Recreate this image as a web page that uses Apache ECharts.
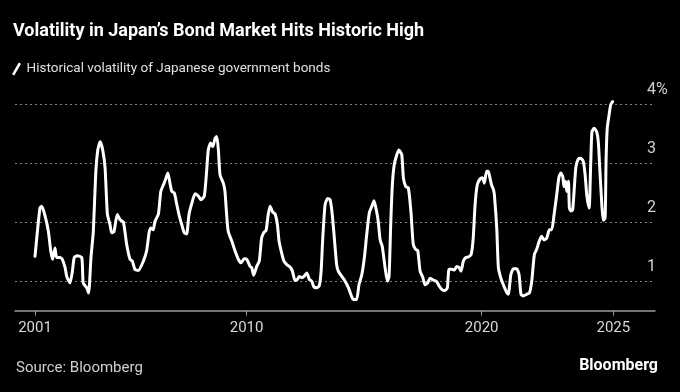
<!DOCTYPE html>
<html>
<head>
<meta charset="utf-8">
<script src="https://cdn.jsdelivr.net/npm/echarts@6/dist/echarts.min.js"></script>
<style>
html,body{margin:0;padding:0;background:#000;}
#c{width:680px;height:392px;}
</style>
</head>
<body>
<div id="c"></div>
<script>
const title = 'Volatility in Japan\u2019s Bond Market Hits Historic High';
const seriesName = 'Historical volatility of Japanese government bonds';
const source = 'Source: Bloomberg';
const xTickValues = [2001, 2010, 2020, 2025.6];
const xTickLabels = ['2001', '2010', '2020', '2025'];
const yTickValues = [1, 2, 3, 4];
const yTickLabels = ['1', '2', '3', '4%'];
const years = [
2001.00,2001.21,2001.29,2001.43,2001.57,2001.67,2001.75,2001.85,2001.92,2002.06,
2002.16,2002.28,2002.35,2002.49,2002.59,2002.67,2002.80,2002.99,2003.05,2003.20,
2003.28,2003.38,2003.48,2003.58,2003.67,2003.77,2003.88,2003.98,2004.08,2004.19,
2004.26,2004.36,2004.50,2004.62,2004.76,2004.90,2005.04,2005.14,2005.25,2005.39,
2005.61,2005.75,2005.86,2005.93,2006.03,2006.10,2006.25,2006.35,2006.46,2006.56,
2006.65,2006.74,2006.82,2006.93,2007.03,2007.14,2007.24,2007.35,2007.45,2007.55,
2007.67,2007.81,2007.95,2008.06,2008.20,2008.30,2008.37,2008.47,2008.56,2008.66,
2008.73,2008.80,2008.87,2009.01,2009.08,2009.15,2009.22,2009.37,2009.51,2009.65,
2009.76,2009.90,2010.01,2010.15,2010.22,2010.30,2010.43,2010.54,2010.64,2010.74,
2010.83,2010.92,2011.00,2011.11,2011.21,2011.31,2011.38,2011.49,2011.59,2011.71,
2011.85,2011.95,2012.06,2012.16,2012.24,2012.35,2012.44,2012.56,2012.67,2012.77,
2012.87,2012.98,2013.09,2013.17,2013.24,2013.34,2013.45,2013.55,2013.63,2013.72,
2013.83,2013.90,2014.05,2014.19,2014.33,2014.43,2014.54,2014.68,2014.78,2014.90,
2015.01,2015.11,2015.22,2015.33,2015.42,2015.53,2015.60,2015.68,2015.77,2015.89,
2015.99,2016.06,2016.13,2016.20,2016.28,2016.39,2016.48,2016.60,2016.67,2016.77,
2016.88,2016.99,2017.09,2017.19,2017.28,2017.38,2017.49,2017.59,2017.70,2017.80,
2017.94,2018.09,2018.19,2018.30,2018.44,2018.54,2018.61,2018.73,2018.84,2018.94,
2019.04,2019.12,2019.22,2019.32,2019.43,2019.55,2019.64,2019.72,2019.81,2019.93,
2020.03,2020.11,2020.21,2020.28,2020.35,2020.42,2020.50,2020.54,2020.64,2020.71,
2020.81,2020.92,2021.04,2021.13,2021.24,2021.35,2021.49,2021.59,2021.67,2021.77,
2021.92,2022.03,2022.13,2022.24,2022.34,2022.45,2022.55,2022.65,2022.77,2022.88,
2022.98,2023.08,2023.19,2023.29,2023.37,2023.45,2023.50,2023.57,2023.62,2023.69,
2023.73,2023.80,2023.87,2023.94,2024.01,2024.11,2024.21,2024.32,2024.40,2024.47,
2024.57,2024.64,2024.69,2024.78,2024.89,2024.96,2025.03,2025.11,2025.17,2025.25,
2025.29,2025.34,2025.42,2025.49,2025.57
];
const volatility = [
1.42,2.24,2.27,2.10,1.84,1.51,1.37,1.56,1.40,1.40,
1.37,1.23,1.08,0.97,1.17,1.40,1.43,1.40,0.97,0.89,
0.80,1.40,1.84,2.80,3.22,3.36,3.22,2.92,2.13,1.96,
1.82,1.84,2.13,2.04,2.00,1.62,1.37,1.34,1.20,1.18,
1.34,1.52,1.84,1.90,1.87,2.01,2.14,2.52,2.63,2.73,
2.83,2.66,2.52,2.49,2.30,2.10,1.96,1.82,1.80,2.13,
2.32,2.48,2.44,2.38,2.44,2.86,3.22,3.34,3.28,3.42,
3.45,3.22,2.80,2.66,2.52,2.13,1.84,1.68,1.51,1.37,
1.31,1.38,1.37,1.25,1.23,1.10,1.25,1.34,1.73,1.83,
1.86,2.13,2.27,2.17,2.14,1.96,1.68,1.48,1.34,1.28,
1.24,1.17,1.01,1.03,1.08,1.06,1.08,1.14,1.03,1.00,
0.90,0.89,0.92,1.17,1.73,2.30,2.40,2.38,2.18,1.79,
1.28,1.17,1.08,1.00,0.89,0.78,0.69,0.69,0.94,1.11,
1.40,1.79,2.16,2.27,2.36,2.18,2.01,1.70,1.59,1.23,
1.00,1.08,1.96,2.63,2.97,3.14,3.22,3.14,2.75,2.60,
2.58,2.18,1.62,1.54,1.52,1.17,1.07,0.94,0.97,1.05,
1.02,0.99,0.92,0.86,0.84,0.89,1.20,1.20,1.19,1.25,
1.23,1.17,1.34,1.40,1.41,1.45,1.73,2.30,2.63,2.73,
2.75,2.66,2.86,2.86,2.75,2.63,2.55,2.46,1.90,1.23,
1.06,0.94,0.83,0.78,1.11,1.21,1.21,1.11,0.78,0.75,
0.78,0.80,1.00,1.45,1.54,1.68,1.76,1.70,1.73,1.87,
1.87,2.13,2.46,2.77,2.83,2.77,2.60,2.69,2.52,2.69,
2.24,2.19,2.21,2.58,2.94,3.07,3.08,3.03,2.80,2.46,
2.24,3.03,3.53,3.59,3.53,3.36,2.86,2.30,2.03,2.07,
3.03,3.59,3.82,3.99,4.04
];

const FONT = 'Roboto, "Noto Sans", sans-serif';
const chart = echarts.init(document.getElementById('c'), null, {renderer: 'canvas'});
chart.setOption({
  backgroundColor: '#000000',
  animation: false,
  title: {
    text: title,
    left: 13, top: 22, padding: 0,
    textStyle: {color: '#ffffff', fontFamily: FONT, fontWeight: 'bold', fontSize: 18}
  },
  legend: {
    left: 12, top: 62, padding: 0,
    itemWidth: 10, itemHeight: 13, itemGap: 10,
    icon: 'path://M0,13 L7.5,0 L10,1.4 L2.5,14.4 Z',
    textStyle: {color: '#e0e0e0', fontFamily: FONT, fontSize: 13.5},
    data: [{name: seriesName, itemStyle: {color: '#ffffff'}}]
  },
  graphic: [
    {type: 'text', left: 16, top: 361, style: {text: source, fill: '#d0d0d0', font: '15px ' + FONT}},
    {type: 'text', right: 22, top: 358, style: {text: 'Bloomberg', fill: '#ffffff', font: 'bold 16px ' + FONT}}
  ],
  grid: {left: 15, right: 25, top: 98.1, bottom: 81.3, containLabel: false},
  xAxis: {
    type: 'value', min: 2000.149, max: 2027.372,
    axisLine: {show: true, lineStyle: {color: '#999999', width: 1.5}},
    axisTick: {show: true, length: 5, customValues: xTickValues, lineStyle: {color: '#999999', width: 1}},
    axisLabel: {
      customValues: xTickValues, color: '#d8d8d8', fontFamily: FONT, fontSize: 15, margin: 10,
      formatter: function (v) { const i = xTickValues.indexOf(v); return i >= 0 ? xTickLabels[i] : ''; }
    },
    splitLine: {show: false}
  },
  yAxis: {
    type: 'value', position: 'right', min: 0.5, max: 4.1,
    axisLine: {show: false},
    axisTick: {show: false, customValues: yTickValues},
    axisLabel: {
      customValues: yTickValues, color: '#d0d0d0', fontFamily: FONT, fontSize: 16,
      margin: -8, align: 'left', verticalAlign: 'bottom', padding: [0, 0, 6, 0],
      formatter: function (v) { const i = yTickValues.indexOf(v); return i >= 0 ? yTickLabels[i] : ''; }
    },
    splitLine: {show: true, lineStyle: {color: '#808080', width: 1, type: [2, 3]}}
  },
  series: [{
    name: seriesName,
    type: 'line',
    data: years.map((y, i) => [y, volatility[i]]),
    showSymbol: false,
    symbol: 'none',
    smooth: 0.2,
    clip: false,
    lineStyle: {color: '#ffffff', width: 3, cap: 'round', join: 'round'},
    itemStyle: {color: '#ffffff'}
  }]
});
</script>
</body>
</html>
